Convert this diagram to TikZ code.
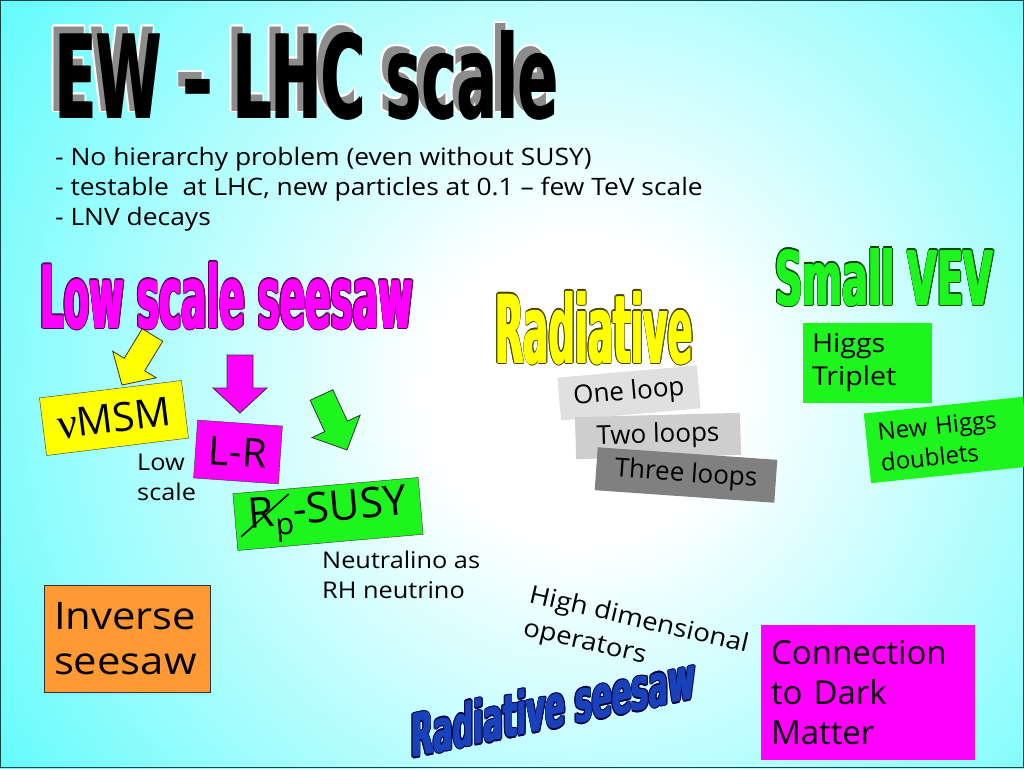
\documentclass[tikz,border=0pt]{standalone}
\usepackage{fontspec}
\setmainfont{Open Sans}
\newfontfamily\wfont{Open Sans}[FakeStretch=1.1]
\newfontfamily\gfont{Liberation Serif}
\newfontfamily\tfont{DejaVu Sans Condensed Bold}
\usepackage{graphicx}
\usetikzlibrary{calc}
\definecolor{bgcyan}{RGB}{25,250,250}
\definecolor{ylw}{RGB}{255,255,0}
\definecolor{ylwdark}{RGB}{70,70,0}
\definecolor{mag}{RGB}{255,0,255}
\definecolor{magdark}{RGB}{90,0,90}
\definecolor{grn}{RGB}{30,245,30}
\definecolor{grndark}{RGB}{0,70,0}
\definecolor{org}{RGB}{255,153,51}
\definecolor{gA}{RGB}{224,224,224}
\definecolor{gB}{RGB}{206,206,206}
\definecolor{gC}{RGB}{128,128,128}
\definecolor{rsblue}{RGB}{25,65,185}
\definecolor{rsdark}{RGB}{0,0,70}
\definecolor{edge}{RGB}{50,50,50}
\definecolor{shgray}{RGB}{140,140,140}
\definecolor{frame}{RGB}{20,70,70}
\pgfdeclareradialshading{bgshade}{\pgfpoint{0bp}{0bp}}{color(0bp)=(white);color(4bp)=(white);color(25bp)=(bgcyan);color(50bp)=(bgcyan)}
\newcommand\fs[2]{\fontsize{#1}{#2}\selectfont}
\tikzset{
  heavy/.style={inner sep=0pt,anchor=base west},
  txt/.style={inner sep=0pt,anchor=base west,font=\wfont\fs{23}{23}},
  box/.style={inner sep=0pt,align=center},
  arrowbox/.style={draw=edge,line width=0.8pt,line join=miter}
}
\newcommand\heavytext[8]{%
  \foreach \a in {0,30,...,330}{%
    \node[heavy,#3,text=#7] at ($(#2)+(\a:1.6)$) {\resizebox{#4}{#5}{\tfont #8}};}%
  \foreach \d in {-0.9,0.9}{%
    \node[heavy,#3,text=#6] at ($(#2)+(\d,0)$) {\resizebox{#4}{#5}{\tfont #8}};}%
  \node[heavy,#3,text=#6] (#1) at (#2) {\resizebox{#4}{#5}{\tfont #8}};}
\newcommand\blockarrow[7]{%
  \draw[arrowbox,fill=#7,shift={(#1)},rotate=#2]
   (0,-#4/2) -- ({#3-#6},-#4/2) -- ({#3-#6},-#5/2) -- (#3,0) --
   ({#3-#6},#5/2) -- ({#3-#6},#4/2) -- (0,#4/2) -- cycle;}
\begin{document}
\begin{tikzpicture}[x=1pt,y=-1pt]
\useasboundingbox (0,0) rectangle (1024,768);
\begin{scope}
  \clip (0,0) rectangle (1024,768);
  \fill[bgcyan] (0,0) rectangle (1024,768);
  \shade[shading=bgshade] (580,390) circle (960);
\end{scope}
\draw[frame,line width=1.2pt] (0.6,0.6) rectangle (1023.4,767.4);

% title with shadow
\foreach \a in {0,45,...,315}{%
  \node[heavy,text=white] at ($(48,111)+(\a:1.6)$) {\resizebox{503pt}{88pt}{\tfont EW – LHC scale}};}
\node[heavy,text=shgray] at (48,111) {\resizebox{503pt}{88pt}{\tfont EW – LHC scale}};
\node[heavy,text=black] at (55.8,118) {\resizebox{503pt}{88pt}{\tfont EW – LHC scale}};
\node[heavy,text=black] (title) at (54.5,118) {\resizebox{503pt}{88pt}{\tfont EW – LHC scale}};

% bullets
\node[txt,font=\wfont\fs{24}{24}] (b1) at (55,165) {- No hierarchy problem (even without SUSY)};
\node[txt,font=\wfont\fs{24}{24}] (b2) at (55,195) {- testable\ \ at LHC, new particles at 0.1 – few TeV scale};
\node[txt,font=\wfont\fs{24}{24}] (b3) at (55,225) {- LNV decays};

% section titles
\heavytext{lss}{40,328}{}{373pt}{66pt}{mag}{magdark}{Low scale seesaw}
\heavytext{rad}{495,363}{}{198pt}{72pt}{ylw}{ylwdark}{Radiative}
\heavytext{vev}{775,305}{}{218pt}{57pt}{grn}{grndark}{Small VEV}
\heavytext{rss}{411,758}{yslant=0.21}{284pt}{45pt}{rsblue}{rsdark}{Radiative seesaw}

% arrows
\blockarrow{152.5,335}{-121.4}{58.6}{24}{51}{24}{ylw}
\blockarrow{240,355}{-90}{58}{26}{54}{25}{mag}
\blockarrow{321.5,395}{-65.1}{60.6}{25}{53}{26}{grn}

% low scale seesaw boxes
\node[box,fill=ylw,draw=edge,minimum width=143pt,minimum height=58pt,rotate=7,font=\fs{40}{40}] (numsm) at (114,418) {{\gfont\fs{44}{44}ν}MSM};
\node[box,fill=mag,draw=edge,minimum width=85pt,minimum height=58pt,rotate=-4,font=\fs{40}{40}] (lr) at (238,452) {L-R};
\node[box,fill=grn,draw=edge,minimum width=186pt,minimum height=57pt,rotate=5,font=\fs{42}{42}] (rp) at (328,514)
  {\rlap{\hspace{-10pt}\raisebox{-8pt}{\rotatebox{37}{\rule{64pt}{1.6pt}}}}R\raisebox{-9pt}{\fs{30}{30}p}-SUSY};
\node[txt] (low1) at (137,470) {Low};
\node[txt] (low2) at (137,500) {scale};
\node[txt] (neu1) at (322,568) {Neutralino as};
\node[txt] (neu2) at (322,598) {RH neutrino};

% radiative boxes
\node[box,fill=gA,minimum width=140pt,minimum height=43pt,rotate=5,font=\fs{26}{26}] (one) at (629,393) {One loop};
\node[box,fill=gB,minimum width=165pt,minimum height=42pt,rotate=1.5,font=\fs{26}{26}] (two) at (658,436) {Two loops};
\node[box,fill=gC,minimum width=180pt,minimum height=43pt,rotate=-4,font=\fs{26}{26}] (three) at (686,475) {Three loops};

% small VEV boxes
\node[box,fill=grn,minimum width=129pt,minimum height=80pt,text width=110pt,align=left,font=\wfont\fs{26}{33}] (ht) at (867,363) {Higgs\\Triplet};
\node[box,fill=grn,minimum width=160pt,minimum height=70pt,text width=136pt,align=left,rotate=6,font=\fs{24}{31}] (nhd) at (947,440) {New Higgs\\doublets};

% bottom
\node[box,fill=org,draw=edge,minimum width=166pt,minimum height=107pt,text width=146pt,align=left,font=\wfont\fs{38}{45}] (inv) at (127,638.5) {Inverse\\seesaw};
\node[box,fill=mag,minimum width=214pt,minimum height=135pt,text width=194pt,align=left,font=\fs{33}{40}] (dm) at (868,692.5) {Connection\\to Dark\\Matter};
\node[txt,rotate=-13,font=\wfont\fs{25}{25}] (hd1) at (528,602) {High dimensional};
\node[txt,rotate=-13,font=\wfont\fs{25}{25}] (hd2) at (522,635) {operators};
\end{tikzpicture}
\end{document}
